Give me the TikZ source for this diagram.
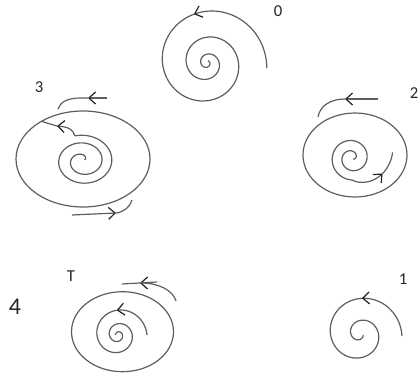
\documentclass[tikz,border=0pt]{standalone}
\usepackage{fontspec}
\setmainfont{Carlito}
\usepackage{tikz}
\usetikzlibrary{arrows.meta}
\definecolor{penGray}{HTML}{5E5E5E}
\definecolor{inkBlack}{HTML}{222222}
\tikzset{coilexp/.store in=\coilexp, coilexp=1}
%% coil: [opts]{cx}{cy}{t0}{t1}{r0}{r1}{from}{to}
\newcommand{\drawcoil}[9][]{%
  \begin{scope}[shift={(#2,#3)}]
    \draw[coil,#1,declare function={rr(\t)=#7+(#6-(#7))*pow(max(1-(\t-(#4))/((#5)-(#4)),0.0001),\coilexp);}]
      plot[smooth,domain=#8:#9,samples=160] ({rr(\x)*cos(\x)},{-rr(\x)*sin(\x)});
  \end{scope}}

\begin{document}
\begin{tikzpicture}[
    x=0.75pt,y=-0.75pt,
    every node/.style={font=\fontsize{12.5}{14}\selectfont},
    coil/.style={draw=penGray,line width=0.9pt},
    barb/.style={-{Straight Barb[length=5pt,width=9pt,color=inkBlack]}},
    lab/.style={inner sep=0pt,text=black!85}
  ]
  \useasboundingbox (0,0) rectangle (419,376);
  %% 0: inward spiral
  \drawcoil[barb,coilexp=1.8]{207}{63}{-5}{1150}{60}{2.5}{-5}{105}
  \drawcoil[coilexp=1.8]{207}{63}{-5}{1150}{60}{2.5}{105}{1150}
  \node[lab] (l0) at (278,11) {0};
  %% 1: inward spiral
  \drawcoil[barb,coilexp=1.3]{360}{334}{-3}{700}{42}{3.5}{-3}{87}
  \drawcoil[coilexp=1.3]{360}{334}{-3}{700}{42}{3.5}{87}{700}
  \node[lab] (l1) at (403,279) {1};
  %% 2: ellipse, outward spiral
  \draw[coil] (355,155) ellipse [x radius=52,y radius=42];
  \draw[coil,barb] (378,99) -- (345,99);
  \draw[coil] (345,99) .. controls (330,99) and (320,106) .. (318,117);
  \drawcoil[coilexp=0.8]{352}{158}{270}{-400}{22}{1.5}{-400}{270}
  \drawcoil[barb]{352}{158}{270}{368}{22}{41}{270}{333}
  \drawcoil{352}{158}{270}{368}{22}{41}{333}{368}
  \node[lab] (l2) at (414,93) {2};
  %% 3: ellipse, outward spiral joined to it
  \draw[coil] (83,159) ellipse [x radius=67,y radius=48];
  \draw[coil,barb] (107,98) -- (88,98);
  \draw[coil] (88,98) -- (80,98) .. controls (68,98) and (60,102) .. (58,109);
  \draw[coil,barb] (72,215) -- (116,213);
  \draw[coil] (116,213) .. controls (124,212) and (130,207) .. (132,200);
  \drawcoil[xscale=1.2,coilexp=0.6]{83}{161}{825}{40}{26}{1.5}{40}{825}
  \draw[coil,barb] (74.9,135.9) .. controls (73,131) and (71,127) .. (57,126);
  \draw[coil] (57,126) -- (42,121.5);
  \node[lab] (l3) at (39,87) {3};
  %% 4 / T: ellipse, inward spiral
  \draw[coil] (122.5,331.7) ellipse [x radius=51,y radius=40];
  \draw[coil,barb] (176,301) .. controls (173,290) and (158,283) .. (140,283);
  \draw[coil] (122,284) -- (157,282);
  \drawcoil[barb,coilexp=1.6]{118}{335}{0}{900}{29}{2.5}{0}{93}
  \drawcoil[coilexp=1.6]{118}{335}{0}{900}{29}{2.5}{93}{900}
  \node[lab] (lT) at (71,276) {T};
  \node[lab,font=\fontsize{18}{20}\selectfont] (l4) at (15,307) {4};
\end{tikzpicture}
\end{document}
